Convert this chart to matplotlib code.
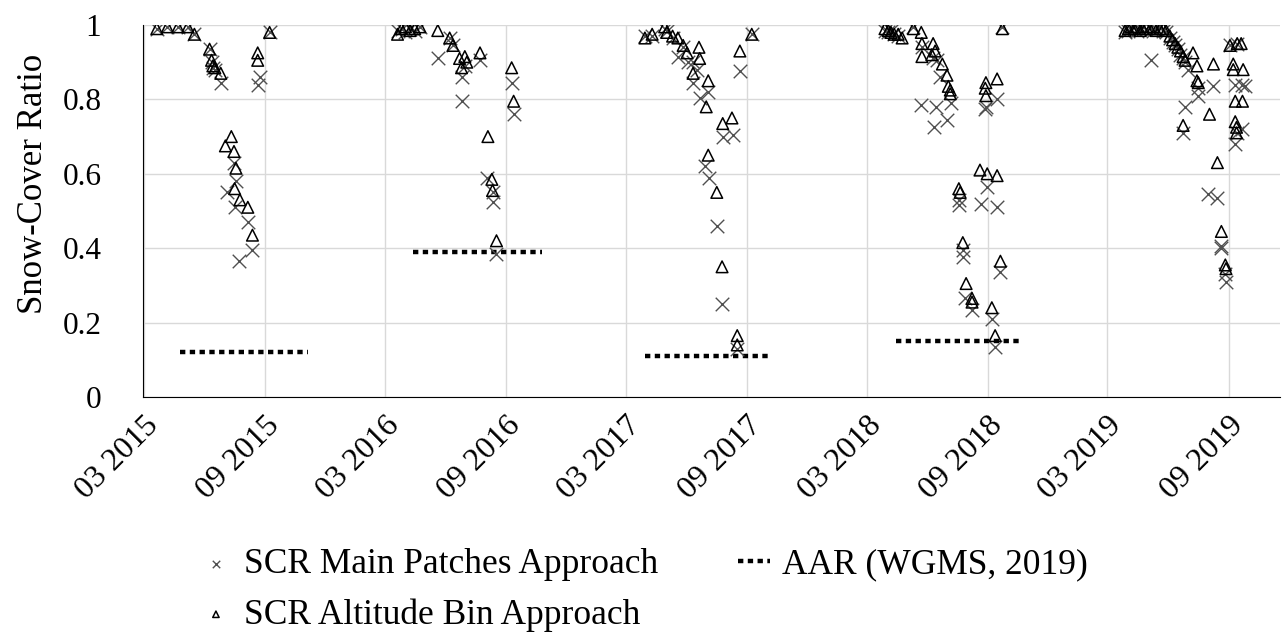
import pandas as pd
import matplotlib
matplotlib.use("Agg")
import matplotlib.pyplot as plt
import matplotlib.dates as mdates

plt.rcParams['font.family'] = ['Liberation Serif', 'DejaVu Serif']

# SCR main patches approach (x markers)
main_dates = [
    "2015-03-21", "2015-04-06", "2015-04-22", "2015-05-07", "2015-05-17", "2015-06-09",
    "2015-06-12", "2015-06-14", "2015-06-17", "2015-06-26", "2015-07-05", "2015-07-16",
    "2015-07-17", "2015-07-19", "2015-07-23", "2015-08-06", "2015-08-13", "2015-08-21",
    "2015-08-24", "2015-09-08",
    "2016-03-20", "2016-03-26", "2016-04-01", "2016-04-08", "2016-04-15", "2016-04-23",
    "2016-05-20", "2016-06-07", "2016-06-12", "2016-06-25", "2016-06-25", "2016-06-30",
    "2016-07-23", "2016-08-02", "2016-08-11", "2016-08-11", "2016-08-17", "2016-09-09",
    "2016-09-12",
    "2017-03-30", "2017-04-10", "2017-04-29", "2017-05-02", "2017-05-11", "2017-05-19",
    "2017-05-27", "2017-06-03", "2017-06-11", "2017-06-11", "2017-06-17", "2017-06-21",
    "2017-06-29", "2017-07-04", "2017-07-05", "2017-07-17", "2017-07-25", "2017-07-26",
    "2017-08-11", "2017-08-17", "2017-08-21", "2017-09-08",
    "2018-03-29", "2018-04-03", "2018-04-07", "2018-04-12", "2018-04-18", "2018-05-11",
    "2018-05-23", "2018-05-24", "2018-06-10", "2018-06-11", "2018-06-14", "2018-06-16",
    "2018-06-21", "2018-07-01", "2018-07-07", "2018-07-19", "2018-07-19", "2018-07-25",
    "2018-07-25", "2018-07-28", "2018-08-08", "2018-08-22", "2018-08-28", "2018-08-29",
    "2018-08-31", "2018-09-07", "2018-09-12", "2018-09-15", "2018-09-15", "2018-09-20",
    "2018-09-23",
    "2019-03-28", "2019-04-02", "2019-04-06", "2019-04-11", "2019-04-15", "2019-04-20",
    "2019-04-24", "2019-04-29", "2019-05-05", "2019-05-07", "2019-05-10", "2019-05-14",
    "2019-05-20", "2019-05-25", "2019-05-29", "2019-06-04", "2019-06-08", "2019-06-12",
    "2019-06-16", "2019-06-20", "2019-06-24", "2019-06-24", "2019-06-27", "2019-06-27",
    "2019-07-02", "2019-07-17", "2019-07-17", "2019-08-01", "2019-08-09", "2019-08-15",
    "2019-08-21", "2019-08-21", "2019-08-27", "2019-08-28", "2019-09-03", "2019-09-11",
    "2019-09-11", "2019-09-14", "2019-09-14", "2019-09-22", "2019-09-22", "2019-09-26",
]
main_scr = [
    0.99, 0.995, 0.995, 0.995, 0.975, 0.935,
    0.90, 0.885, 0.88, 0.845, 0.55, 0.63,
    0.51, 0.58, 0.365, 0.47, 0.395, 0.84,
    0.86, 0.98,
    0.985, 0.99, 0.98, 0.99, 0.985, 0.995,
    0.91, 0.965, 0.945, 0.86, 0.795, 0.89,
    0.905, 0.59, 0.55, 0.525, 0.385, 0.845,
    0.76,
    0.97, 0.97, 0.99, 0.985, 0.965, 0.915,
    0.94, 0.90, 0.90, 0.845, 0.88, 0.805,
    0.62, 0.82, 0.59, 0.46, 0.25, 0.70,
    0.705, 0.13, 0.875, 0.975,
    0.985, 0.98, 0.985, 0.975, 0.97, 0.995,
    0.785, 0.94, 0.91, 0.725, 0.78, 0.905,
    0.86, 0.745, 0.79, 0.53, 0.515, 0.395,
    0.375, 0.265, 0.235, 0.52, 0.775, 0.78,
    0.565, 0.21, 0.135, 0.80, 0.51, 0.335,
    0.995,
    0.98, 0.985, 0.99, 0.995, 0.985, 0.99,
    0.995, 0.99, 0.995, 0.905, 0.985, 0.99,
    0.995, 0.985, 0.98, 0.965, 0.955, 0.945,
    0.935, 0.92, 0.91, 0.71, 0.90, 0.78,
    0.88, 0.83, 0.81, 0.545, 0.835, 0.535,
    0.405, 0.40, 0.33, 0.31, 0.945, 0.84,
    0.68, 0.95, 0.71, 0.84, 0.72, 0.835,
]

# SCR altitude bin approach (triangles)
alt_dates = [
    "2015-03-21", "2015-04-06", "2015-04-22", "2015-05-07", "2015-05-17", "2015-06-09",
    "2015-06-12", "2015-06-14", "2015-06-17", "2015-06-26", "2015-07-03", "2015-07-12",
    "2015-07-16", "2015-07-17", "2015-07-19", "2015-07-25", "2015-08-06", "2015-08-13",
    "2015-08-21", "2015-08-21", "2015-09-08",
    "2016-03-20", "2016-03-26", "2016-04-01", "2016-04-08", "2016-04-15", "2016-04-23",
    "2016-05-20", "2016-06-07", "2016-06-12", "2016-06-22", "2016-06-25", "2016-06-30",
    "2016-07-03", "2016-07-23", "2016-08-04", "2016-08-10", "2016-08-11", "2016-08-17",
    "2016-09-09", "2016-09-12",
    "2017-03-30", "2017-04-10", "2017-04-29", "2017-05-02", "2017-05-11", "2017-05-19",
    "2017-05-27", "2017-06-02", "2017-06-11", "2017-06-20", "2017-06-21", "2017-07-01",
    "2017-07-04", "2017-07-04", "2017-07-17", "2017-07-25", "2017-07-26", "2017-08-09",
    "2017-08-17", "2017-08-17", "2017-08-21", "2017-09-08",
    "2018-03-29", "2018-04-03", "2018-04-07", "2018-04-12", "2018-04-18", "2018-04-24",
    "2018-05-11", "2018-05-23", "2018-05-24", "2018-05-24", "2018-06-08", "2018-06-10",
    "2018-06-13", "2018-06-24", "2018-07-01", "2018-07-03", "2018-07-06", "2018-07-06",
    "2018-07-19", "2018-07-21", "2018-07-25", "2018-07-30", "2018-08-08", "2018-08-08",
    "2018-08-20", "2018-08-28", "2018-08-29", "2018-08-29", "2018-08-31", "2018-09-07",
    "2018-09-12", "2018-09-15", "2018-09-15", "2018-09-20", "2018-09-23",
    "2019-03-28", "2019-04-02", "2019-04-06", "2019-04-11", "2019-04-15", "2019-04-20",
    "2019-04-24", "2019-04-29", "2019-05-05", "2019-05-10", "2019-05-14", "2019-05-20",
    "2019-05-25", "2019-05-29", "2019-06-04", "2019-06-08", "2019-06-12", "2019-06-16",
    "2019-06-20", "2019-06-24", "2019-06-24", "2019-06-27", "2019-07-09", "2019-07-15",
    "2019-07-15", "2019-07-17", "2019-08-03", "2019-08-09", "2019-08-15", "2019-08-21",
    "2019-08-27", "2019-08-28", "2019-09-03", "2019-09-08", "2019-09-08", "2019-09-11",
    "2019-09-11", "2019-09-13", "2019-09-13", "2019-09-14", "2019-09-20", "2019-09-22",
    "2019-09-23",
]
alt_scr = [
    0.99, 0.995, 0.995, 0.995, 0.975, 0.935,
    0.905, 0.89, 0.885, 0.87, 0.675, 0.70,
    0.66, 0.56, 0.615, 0.53, 0.51, 0.435,
    0.905, 0.925, 0.98,
    0.975, 0.99, 0.995, 0.985, 0.99, 0.995,
    0.985, 0.965, 0.945, 0.91, 0.885, 0.915,
    0.90, 0.925, 0.70, 0.585, 0.555, 0.42,
    0.885, 0.795,
    0.965, 0.975, 0.995, 0.98, 0.97, 0.965,
    0.945, 0.925, 0.87, 0.94, 0.91, 0.78,
    0.85, 0.65, 0.55, 0.35, 0.735, 0.75,
    0.165, 0.14, 0.93, 0.975,
    0.99, 0.985, 0.98, 0.975, 0.975, 0.965,
    0.99, 0.98, 0.95, 0.915, 0.92, 0.95,
    0.93, 0.895, 0.865, 0.835, 0.825, 0.815,
    0.56, 0.55, 0.415, 0.305, 0.265, 0.255,
    0.61, 0.83, 0.845, 0.81, 0.60, 0.24,
    0.165, 0.855, 0.595, 0.365, 0.99,
    0.985, 0.99, 0.995, 0.99, 0.995, 0.985,
    0.99, 0.995, 0.99, 0.995, 0.985, 0.99,
    0.99, 0.985, 0.97, 0.96, 0.95, 0.94,
    0.93, 0.915, 0.73, 0.905, 0.925, 0.89,
    0.85, 0.845, 0.76, 0.895, 0.63, 0.445,
    0.355, 0.345, 0.945, 0.895, 0.88, 0.795,
    0.74, 0.725, 0.71, 0.95, 0.95, 0.795,
    0.88,
]

# AAR (WGMS, 2019), one segment per year
aar_start = ["2015-04-25", "2016-04-12", "2017-03-30", "2018-04-15"]
aar_end = ["2015-11-05", "2016-10-25", "2017-10-09", "2018-10-25"]
aar_value = [0.12, 0.39, 0.11, 0.15]

tick_dates = pd.date_range("2015-03-01", "2019-09-01", freq="6MS")

fig = plt.figure(figsize=(12.82, 6.34), dpi=100)
ax = fig.add_axes([0.1115, 0.3738, 0.887, 0.5868])

ax.scatter(pd.to_datetime(main_dates), main_scr, marker="x", s=95, color="#505050",
           linewidths=1.0, label="SCR Main Patches Approach", zorder=3)
ax.scatter(pd.to_datetime(alt_dates), alt_scr, marker="^", s=70, facecolors="none",
           edgecolors="black", linewidths=1.1, label="SCR Altitude Bin Approach", zorder=3)
for i in range(len(aar_value)):
    ax.plot(pd.to_datetime([aar_start[i], aar_end[i]]), [aar_value[i], aar_value[i]],
            color="black", lw=3.2, linestyle=(0, (1.2, 1.0)),
            label="AAR (WGMS, 2019)" if i == 0 else None, zorder=2)

ax.set_ylim(0, 1)
ax.set_yticks([0, 0.2, 0.4, 0.6, 0.8, 1])
ax.set_yticklabels(["0", "0.2", "0.4", "0.6", "0.8", "1"])
ax.set_xlim(pd.Timestamp("2015-02-28"), pd.Timestamp("2019-11-18"))
ax.set_xticks(tick_dates)
ax.xaxis.set_major_formatter(mdates.DateFormatter("%m %Y"))
plt.setp(ax.get_xticklabels(), rotation=45, ha="right", rotation_mode="anchor")

ax.grid(True, color="#d9d9d9", lw=1)
ax.set_axisbelow(True)
for s in ["top", "right"]:
    ax.spines[s].set_visible(False)
ax.spines["left"].set_color("black")
ax.spines["bottom"].set_color("black")
ax.tick_params(axis="y", length=0, pad=30, labelsize=22.5)
ax.tick_params(axis="x", length=0, pad=10, labelsize=23)
ax.set_ylabel("Snow-Cover Ratio", fontsize=25)
ax.yaxis.set_label_coords(-0.082, 0.573)

fig.legend(loc="upper left", bbox_to_anchor=(0.156, 0.135), ncol=2, frameon=False,
           fontsize=25.5, markerscale=0.55, handlelength=0.9, handletextpad=0.35,
           columnspacing=2.25, labelspacing=0.47, borderaxespad=0, borderpad=0)

fig.savefig("out.png", dpi=100)
